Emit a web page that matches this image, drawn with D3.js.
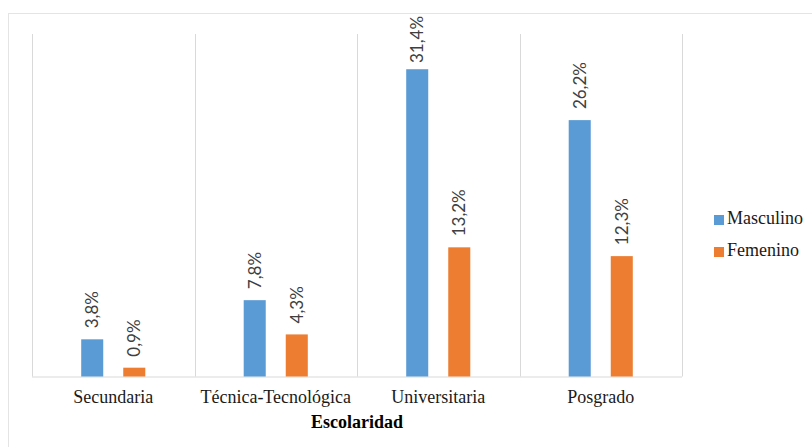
<!DOCTYPE html>
<html>
<head>
<meta charset="utf-8">
<script src="https://cdn.jsdelivr.net/npm/d3@7"></script>
<style>
  body { margin: 0; background: #fff; }
  svg { display: block; }
</style>
</head>
<body>
<script>
const categories = ['Secundaria', 'Técnica-Tecnológica', 'Universitaria', 'Posgrado']
const series = ['Masculino', 'Femenino']
const masculino = [3.8, 7.8, 31.4, 26.2]
const femenino = [0.9, 4.3, 13.2, 12.3]
const colors = ['#5B9BD5', '#ED7D31']

const WIDTH = 812
const HEIGHT = 447
const margin = { left: 32, right: 130, top: 34, bottom: 70.5 }

const svg = d3.select('body').append('svg')
  .attr('width', WIDTH)
  .attr('height', HEIGHT)

// marco exterior
svg.append('rect')
  .attr('x', 8.5).attr('y', 13.5)
  .attr('width', WIDTH + 10).attr('height', HEIGHT + 10)
  .attr('fill', 'none')
  .attr('stroke', '#e4e4e4')

const x = d3.scaleBand()
  .domain(categories)
  .range([margin.left, WIDTH - margin.right])

// posicion de cada serie dentro de la categoria
const xSeries = d3.scaleBand()
  .domain(series)
  .range([0, x.bandwidth()])
  .paddingInner(0.476)
  .paddingOuter(1.17)

const y = d3.scaleLinear()
  .domain([0, 35])
  .range([HEIGHT - margin.bottom, margin.top])

// lineas verticales
const bounds = categories.map(c => x(c)).concat([x.range()[1]])
svg.append('g').selectAll('line')
  .data(bounds)
  .enter()
  .append('line')
  .attr('x1', d => Math.round(d) + 0.5)
  .attr('x2', d => Math.round(d) + 0.5)
  .attr('y1', y(35))
  .attr('y2', y(0))
  .attr('stroke', '#d9d9d9')

svg.append('line')
  .attr('x1', x.range()[0]).attr('x2', x.range()[1])
  .attr('y1', y(0) + 0.5).attr('y2', y(0) + 0.5)
  .attr('stroke', '#d9d9d9')

const rows = []
categories.forEach((c, i) => {
  rows.push({ cat: c, s: 'Masculino', v: masculino[i], k: 0 })
  rows.push({ cat: c, s: 'Femenino', v: femenino[i], k: 1 })
})

const barX = d => x(d.cat) + xSeries(d.s)

svg.append('g').selectAll('rect')
  .data(rows)
  .enter()
  .append('rect')
  .attr('x', barX)
  .attr('y', d => y(d.v))
  .attr('width', xSeries.bandwidth())
  .attr('height', d => y(0) - y(d.v))
  .attr('fill', d => colors[d.k])

// etiquetas de valores
svg.append('g').selectAll('text')
  .data(rows)
  .enter()
  .append('text')
  .attr('transform', d => {
    const cx = barX(d) + xSeries.bandwidth() / 2 + 6
    const cy = Math.max(y(d.v) - 11, 63)
    return `translate(${cx},${cy}) rotate(-90)`
  })
  .attr('font-family', 'Lato, "Open Sans", sans-serif')
  .attr('font-size', 17)
  .attr('fill', '#404040')
  .text(d => d.v.toFixed(1).replace('.', ',') + '%')

// eje x
svg.append('g').selectAll('text')
  .data(categories)
  .enter()
  .append('text')
  .attr('x', d => x(d) + x.bandwidth() / 2)
  .attr('y', 403)
  .attr('text-anchor', 'middle')
  .attr('font-family', '"Liberation Serif", serif')
  .attr('font-size', 18)
  .attr('fill', '#1a1a1a')
  .text(d => d)

svg.append('text')
  .attr('x', (x.range()[0] + x.range()[1]) / 2)
  .attr('y', 428)
  .attr('text-anchor', 'middle')
  .attr('font-family', '"Liberation Serif", serif')
  .attr('font-size', 18)
  .attr('font-weight', 'bold')
  .attr('fill', '#000')
  .text('Escolaridad')

// leyenda
const legend = svg.append('g')
legend.selectAll('rect')
  .data(series)
  .enter()
  .append('rect')
  .attr('x', 714)
  .attr('y', (d, i) => 215 + i * 32)
  .attr('width', 10)
  .attr('height', 10)
  .attr('fill', (d, i) => colors[i])

legend.selectAll('text')
  .data(series)
  .enter()
  .append('text')
  .attr('x', 727)
  .attr('y', (d, i) => 224 + i * 32)
  .attr('font-family', '"Liberation Serif", serif')
  .attr('font-size', 18)
  .attr('fill', '#1a1a1a')
  .text(d => d)
</script>
</body>
</html>
